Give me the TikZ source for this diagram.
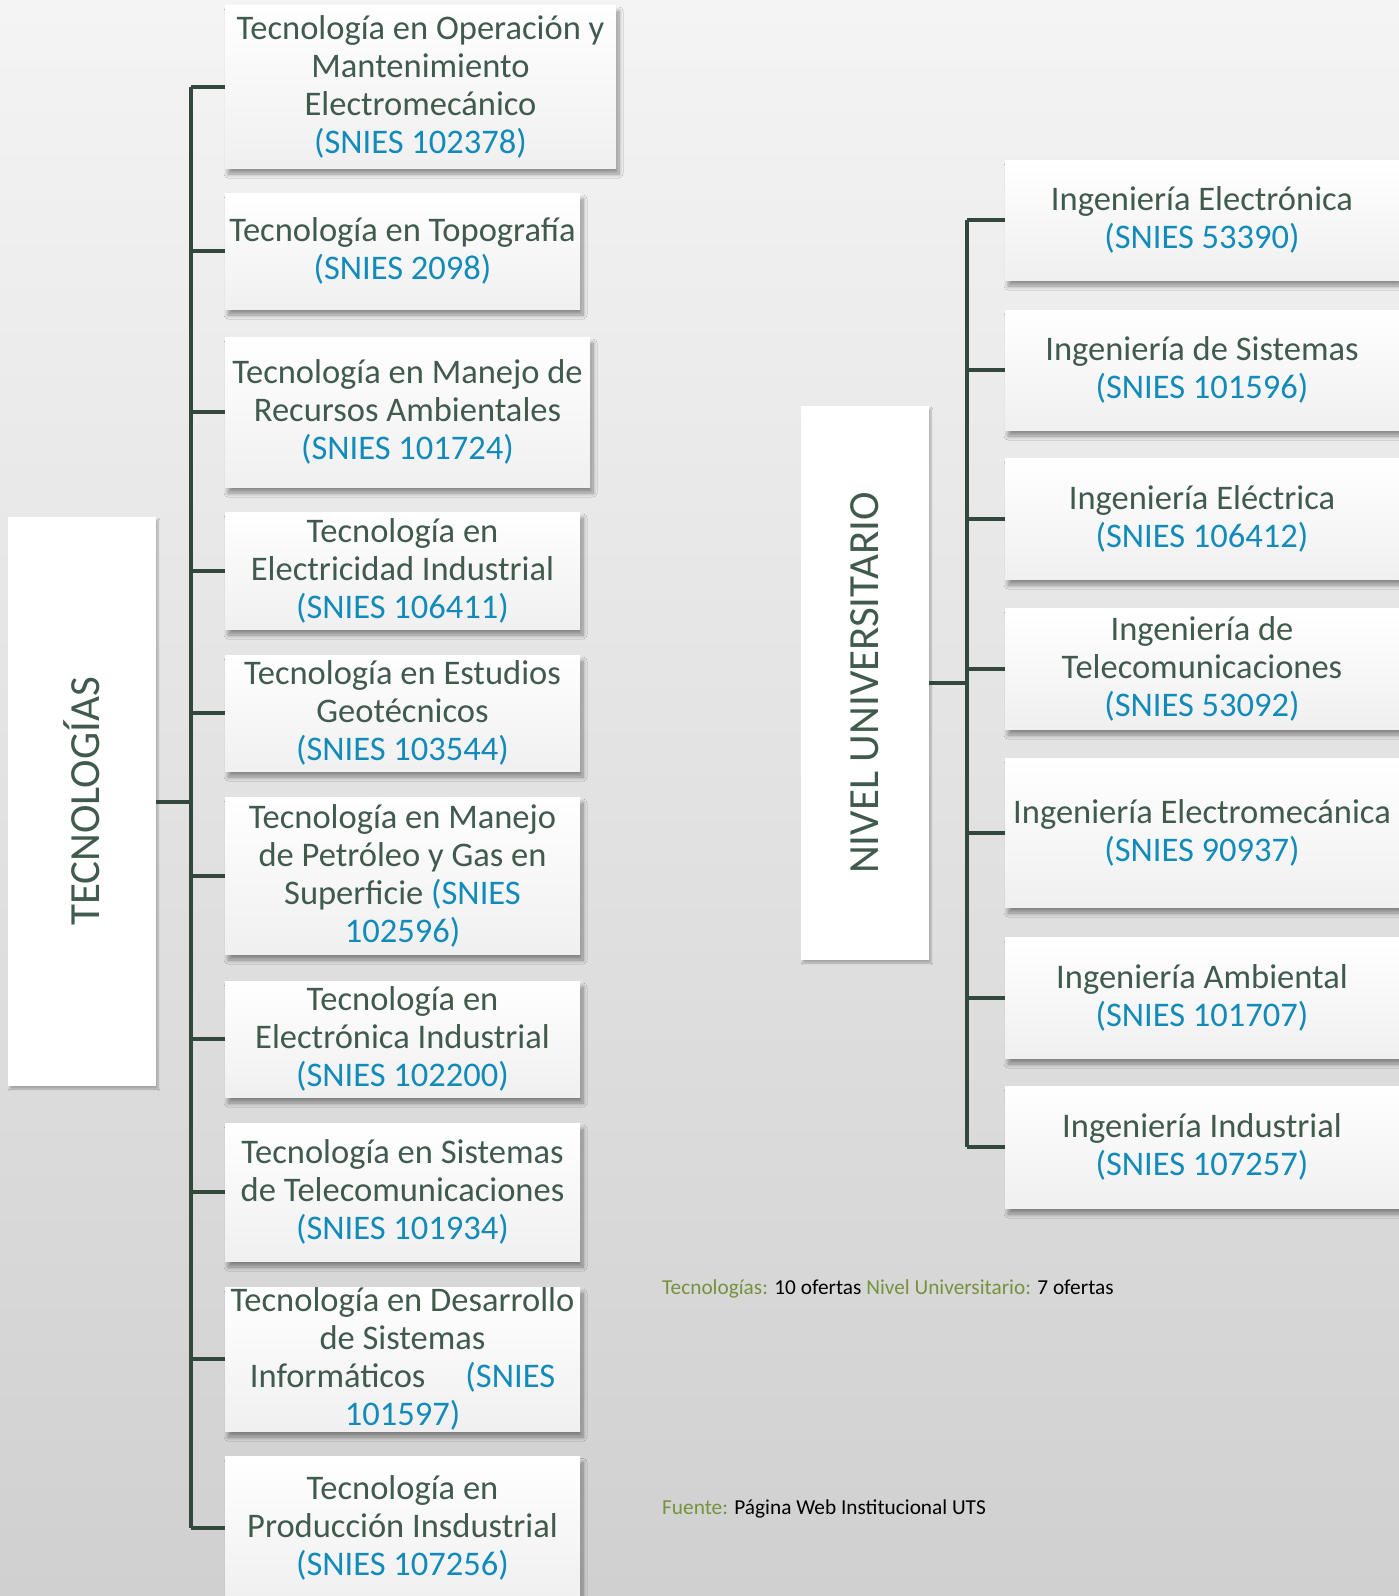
\documentclass[tikz,border=0pt]{standalone}
\usepackage{fontspec}
\setmainfont{Carlito}
\usepackage{tikz}
\usetikzlibrary{positioning,shadows.blur}
\definecolor{bgtop}{RGB}{244,244,244}
\definecolor{bgbot}{RGB}{208,208,208}
\definecolor{txt}{RGB}{64,90,78}
\definecolor{snies}{RGB}{18,139,186}
\definecolor{rama}{RGB}{50,72,60}
\definecolor{oferta}{RGB}{118,146,60}
\newcommand{\snies}[1]{\textcolor{snies}{(SNIES #1)}}

\begin{document}
\begin{tikzpicture}[x=1pt,y=-1pt,
  box/.style={top color=white,bottom color=black!6,inner sep=0pt,align=center,
    text=txt,font=\fontsize{34.5}{38}\selectfont,
    blur shadow={shadow xshift=3pt,shadow yshift=-6pt,shadow opacity=40,shadow blur radius=4pt,shadow blur steps=10}},
  bigbox/.style={fill=white,inner sep=0pt,text=txt,font=\fontsize{43}{50}\selectfont,
    blur shadow={shadow xshift=2pt,shadow yshift=-3pt,shadow opacity=25,shadow blur steps=6}},
  branch/.style={draw=rama,line width=4pt}]
  %background
    \shade[top color=bgtop,bottom color=bgbot] (0,0) rectangle (1399,1596);
    \useasboundingbox (0,0) rectangle (1399,1596);
  %left column
    \node[bigbox,minimum width=148,minimum height=569] (tec) at (82,801.5) {\rotatebox{90}{TECNOLOGÍAS}};
    \node[box,minimum width=391,minimum height=163] (t1) at (420.5,86.5) {Tecnología en Operación y\\Mantenimiento\\Electromecánico\\\snies{102378}};
    \node[box,minimum width=355,minimum height=116] (t2) at (402.5,251) {Tecnología en Topografía\\\snies{2098}};
    \node[box,minimum width=365,minimum height=150] (t3) at (407.5,412) {Tecnología en Manejo de\\Recursos Ambientales\\\snies{101724}};
    \node[box,minimum width=355,minimum height=117] (t4) at (402.5,570.5) {Tecnología en\\Electricidad Industrial\\\snies{106411}};
    \node[box,minimum width=355,minimum height=116] (t5) at (402.5,713) {Tecnología en Estudios\\Geotécnicos\\\snies{103544}};
    \node[box,minimum width=355,minimum height=157] (t6) at (402.5,875.5) {Tecnología en Manejo\\de Petróleo y Gas en\\Superficie \textcolor{snies}{(SNIES}\\\textcolor{snies}{102596)}};
    \node[box,minimum width=355,minimum height=116] (t7) at (402.5,1039) {Tecnología en\\Electrónica Industrial\\\snies{102200}};
    \node[box,minimum width=355,minimum height=138] (t8) at (402.5,1192) {Tecnología en Sistemas\\de Telecomunicaciones\\\snies{101934}};
    \node[box,minimum width=355,minimum height=144] (t9) at (402.5,1359) {Tecnología en Desarrollo\\de Sistemas\\Informáticos\hspace{40pt}\textcolor{snies}{(SNIES}\\\textcolor{snies}{101597)}};
    \node[box,minimum width=355,minimum height=143] (t10) at (402.5,1528) {Tecnología en\\Producción Insdustrial\\\snies{107256}};
  %right column
    \node[bigbox,minimum width=128,minimum height=554] (niv) at (865,683) {\rotatebox{90}{NIVEL UNIVERSITARIO}};
    \node[box,minimum width=394,minimum height=120] (u1) at (1202,220) {Ingeniería Electrónica\\\snies{53390}};
    \node[box,minimum width=394,minimum height=120] (u2) at (1202,370) {Ingeniería de Sistemas\\\snies{101596}};
    \node[box,minimum width=394,minimum height=121] (u3) at (1202,518.5) {Ingeniería Eléctrica\\\snies{106412}};
    \node[box,minimum width=394,minimum height=121] (u4) at (1202,668.5) {Ingeniería de\\Telecomunicaciones\\\snies{53092}};
    \node[box,minimum width=394,minimum height=149] (u5) at (1202,832.5) {Ingeniería Electromecánica\\\snies{90937}};
    \node[box,minimum width=394,minimum height=121] (u6) at (1202,997.5) {Ingeniería Ambiental\\\snies{101707}};
    \node[box,minimum width=394,minimum height=122] (u7) at (1202,1147) {Ingeniería Industrial\\\snies{107257}};
  %draw branches
    \coordinate (lt) at (191,801.5);
    \coordinate (rt) at (967,683);
    \draw[branch] (tec.east) -- (lt);
    \draw[branch] (lt |- t1.west) -- (lt |- t10.west);
    \foreach \i in {1,...,10} \draw[branch] (lt |- t\i.west) -- (t\i.west);
    \draw[branch] (niv.east) -- (rt);
    \draw[branch] (rt |- u1.west) -- (rt |- u7.west);
    \foreach \i in {1,...,7} \draw[branch] (rt |- u\i.west) -- (u\i.west);
  %notes
    \node[anchor=base west,inner sep=0pt,font=\fontsize{21.3}{25}\selectfont] (cuenta) at (662,1294)
      {\textcolor{oferta}{Tecnologías:} 10 ofertas \textcolor{oferta}{Nivel Universitario:} 7 ofertas};
    \node[anchor=base west,inner sep=0pt,font=\fontsize{21.3}{25}\selectfont] (fuente) at (662,1514)
      {\textcolor{oferta}{Fuente:} Página Web Institucional UTS};
\end{tikzpicture}
\end{document}
